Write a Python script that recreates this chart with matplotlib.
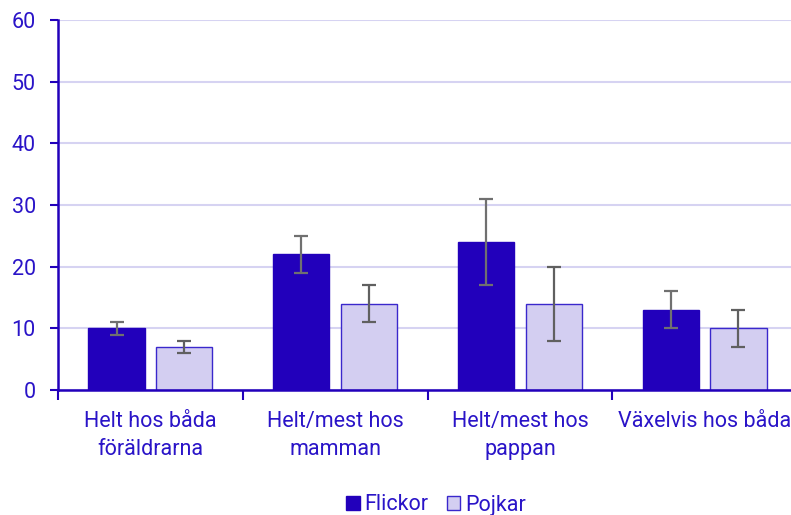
import numpy as np
import matplotlib.pyplot as plt

plt.rcParams['font.family'] = ['Roboto', 'DejaVu Sans']

kategorier = ["Helt hos båda\nföräldrarna", "Helt/mest hos\nmamman", "Helt/mest hos\npappan", "Växelvis hos båda"]
flickor = [10, 22, 24, 13]
flickor_lag = [9, 19, 17, 10]
flickor_hog = [11, 25, 31, 16]
pojkar = [7, 14, 14, 10]
pojkar_lag = [6, 11, 8, 7]
pojkar_hog = [8, 17, 20, 13]

blue = "#2200bb"
light = "#d3cef1"
text_col = "#2a14c8"

fig = plt.figure(figsize=(7.91, 5.15), dpi=100)
ax = fig.add_axes([58/791, 125/515, 739/791, 370/515])

x = np.arange(len(kategorier))
w = 0.305
off = 0.183

err_f = [np.array(flickor) - np.array(flickor_lag), np.array(flickor_hog) - np.array(flickor)]
err_p = [np.array(pojkar) - np.array(pojkar_lag), np.array(pojkar_hog) - np.array(pojkar)]

ax.bar(x - off, flickor, w, color=blue, edgecolor=blue, linewidth=1, label="Flickor", zorder=3)
ax.bar(x + off, pojkar, w, color=light, edgecolor="#3a28cc", linewidth=1, label="Pojkar", zorder=3)
ax.errorbar(x - off, flickor, yerr=err_f, fmt="none", ecolor="#707070", elinewidth=1.6, capsize=5, capthick=1.6, zorder=4)
ax.errorbar(x + off, pojkar, yerr=err_p, fmt="none", ecolor="#606060", elinewidth=1.6, capsize=5, capthick=1.6, zorder=4)

ax.set_ylim(0, 60)
ax.set_yticks(range(0, 61, 10))
ax.set_xlim(-0.5, 3.5)
ax.set_xticks(x)
ax.set_xticklabels(kategorier, fontsize=15.5, color=text_col, linespacing=1.45)
ax.set_xticks(np.arange(-0.5, 3.6, 1), minor=True)
ax.tick_params(axis="x", which="major", length=0, pad=15)
ax.tick_params(axis="x", which="minor", length=7, width=1.5, color=blue, direction="out")
ax.tick_params(axis="y", length=6, width=1.5, color=blue, labelsize=15.5, labelcolor=text_col, pad=10)

ax.grid(axis="y", color="#d6d3f2", linewidth=1.5, zorder=0)
ax.set_axisbelow(True)
for s in ["top", "right"]:
    ax.spines[s].set_visible(False)
for s in ["left", "bottom"]:
    ax.spines[s].set_color(blue)
    ax.spines[s].set_linewidth(1.8)
ax.spines["bottom"].set_zorder(5)

leg = fig.legend(loc="center", bbox_to_anchor=(436/791, 1 - 505/515), ncol=2, frameon=False,
                 fontsize=15.5, handlelength=0.62, handleheight=0.62, handletextpad=0.22, columnspacing=0.85)
for t in leg.get_texts():
    t.set_color(text_col)

plt.savefig("out.png", dpi=100)
